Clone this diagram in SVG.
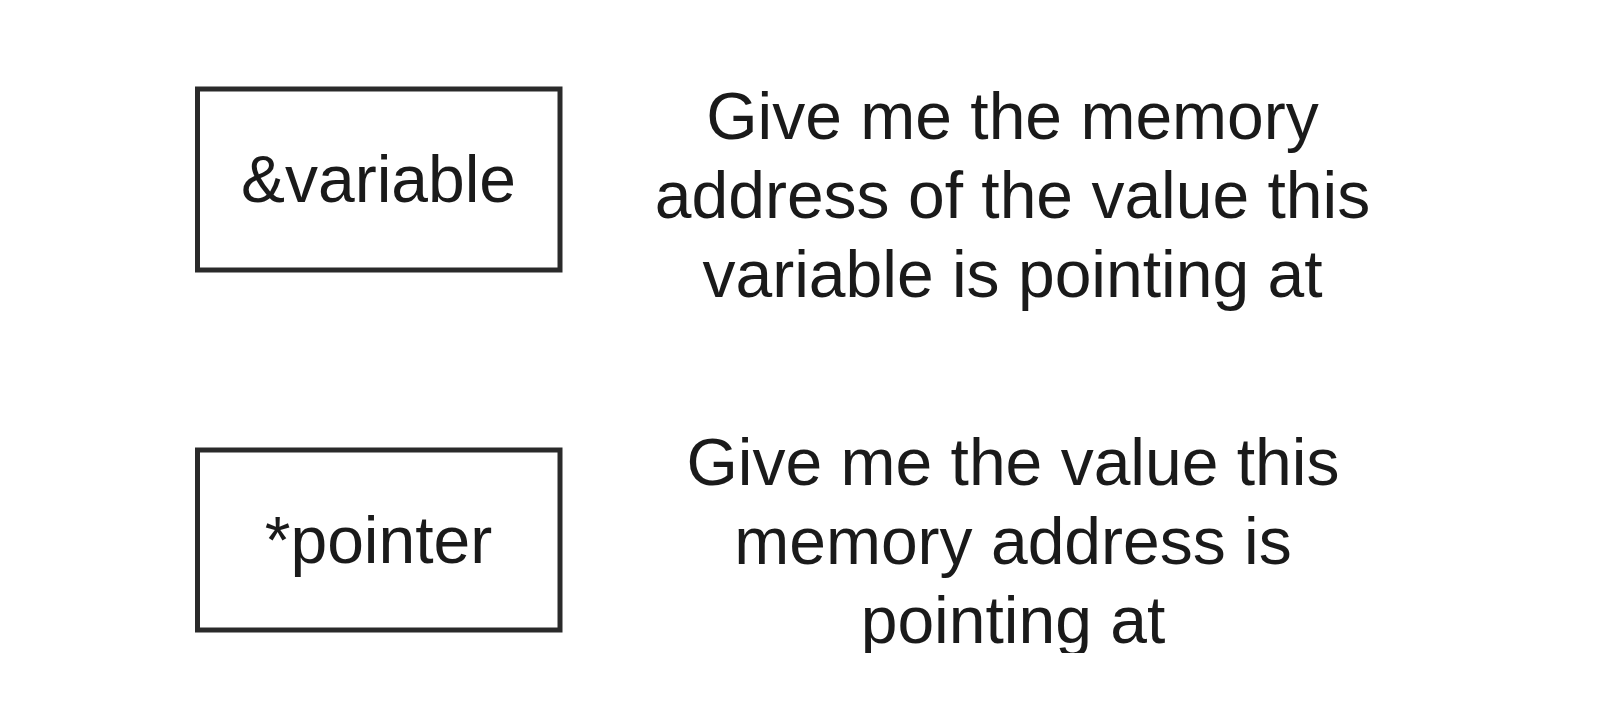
<svg xmlns="http://www.w3.org/2000/svg" width="1600" height="721" viewBox="0 0 1600 721">
  <style>
    .box { fill: #ffffff; stroke: #2a2a2a; stroke-width: 5; }
    .lbl { font-family: "Liberation Sans", Arial, sans-serif; font-size: 66px; fill: #1a1a1a; text-anchor: middle; }
  </style>
  <defs>
    <clipPath id="clip2">
      <rect x="600" y="400" width="850" height="253"/>
    </clipPath>
  </defs>
  <rect width="1600" height="721" fill="#ffffff"/>
  <g id="node-variable">
    <rect class="box" x="197.5" y="89" width="362.5" height="181"/>
    <text class="lbl" x="378.5" y="202">&amp;variable</text>
  </g>
  <g id="node-pointer">
    <rect class="box" x="197.5" y="450" width="362.5" height="180"/>
    <text class="lbl" x="378.5" y="562.5">*pointer</text>
  </g>
  <g id="text-variable">
    <text class="lbl" x="1012.5" y="139">Give me the memory</text>
    <text class="lbl" x="1012.5" y="218">address of the value this</text>
    <text class="lbl" x="1012.5" y="297">variable is pointing at</text>
  </g>
  <g id="text-pointer" clip-path="url(#clip2)">
    <text class="lbl" x="1013" y="485">Give me the value this</text>
    <text class="lbl" x="1013" y="564">memory address is</text>
    <text class="lbl" x="1013" y="643">pointing at</text>
  </g>
  <g id="connectors"></g>
</svg>
